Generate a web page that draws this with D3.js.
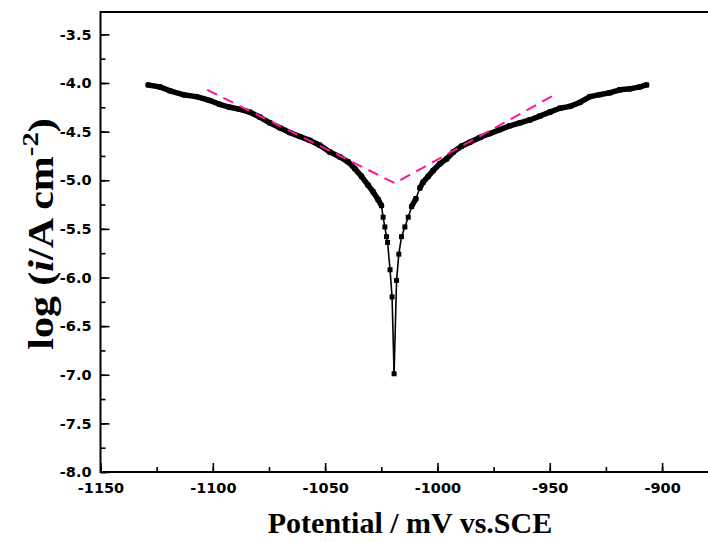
<!DOCTYPE html>
<html>
<head>
<meta charset="utf-8">
<script src="https://cdn.jsdelivr.net/npm/d3@7"></script>
<style>
    body { margin: 0; background: #fff; }
    svg { display: block; }
</style>
</head>
<body>
<div id="chart"></div>
<script>
// polarization curve (mV vs SCE, log i)
const potential = [
    -1128.8, -1123.6, -1119.1, -1113.2, -1107.3, -1101.3, -1096.9, -1092.4, -1088.0, -1083.5,
    -1079.1, -1074.6, -1070.2, -1065.7, -1061.3, -1056.8, -1052.4, -1047.9, -1043.5, -1039.8,
    -1036.8, -1033.8, -1030.9, -1028.6, -1026.4, -1024.9, -1024.2, -1023.4, -1022.7, -1022.2,
    -1021.1, -1020.2, -1019.3,
    -1018.2, -1017.2, -1016.0, -1014.5, -1013.0, -1011.5, -1009.6, -1007.8, -1006.4, -1004.1,
    -1001.9, -998.9, -995.9, -993.0, -989.3, -985.6, -981.1, -976.7, -972.2, -967.8,
    -963.3, -958.9, -954.4, -950.0, -945.5, -941.0, -936.6, -932.1, -927.7, -923.2,
    -918.8, -914.3, -909.9, -906.9
];
const logCurrent = [
    -4.02, -4.04, -4.08, -4.12, -4.14, -4.18, -4.22, -4.25, -4.27, -4.30,
    -4.35, -4.41, -4.46, -4.51, -4.55, -4.59, -4.64, -4.71, -4.76, -4.81,
    -4.88, -4.96, -5.05, -5.12, -5.20, -5.26, -5.38, -5.48, -5.58, -5.64,
    -5.92, -6.20, -6.99,
    -6.03, -5.76, -5.58, -5.48, -5.38, -5.27, -5.19, -5.08, -5.02, -4.96,
    -4.90, -4.83, -4.78, -4.71, -4.65, -4.61, -4.56, -4.52, -4.48, -4.44,
    -4.41, -4.38, -4.34, -4.30, -4.26, -4.24, -4.20, -4.14, -4.12, -4.10,
    -4.07, -4.06, -4.04, -4.02
];

// Tafel extrapolation lines (cathodic end, Ecorr, anodic end)
const tafelPotential = [ -1102.5, -1019.0, -947.7 ];
const tafelLogCurrent = [ -4.07, -5.03, -4.12 ];

const xTicks = [ -1150, -1100, -1050, -1000, -950, -900 ];
const yTicks = [ -3.5, -4.0, -4.5, -5.0, -5.5, -6.0, -6.5, -7.0, -7.5, -8.0 ];

const W = 708, H = 542;
const margin = { top: 12, left: 100.5 };
const plotW = 611, plotH = 460;

const svg = d3
.select('#chart')
.append('svg')
.attr('width', W)
.attr('height', H);

const x = d3.scaleLinear().domain([ -1150, -878 ]).range([ margin.left, margin.left + plotW ]);
const y = d3.scaleLinear().domain([ -8, -3.27 ]).range([ margin.top + plotH, margin.top ]);

const tickFont = '"DejaVu Sans", Arial, sans-serif';
const titleFont = '"Liberation Serif", "Times New Roman", serif';
// plain hyphen minus, like the original
const fmtX = d => d3.format('d')(d).replace('\u2212', '-');
const fmtY = d => d3.format('.1f')(d).replace('\u2212', '-');

// axes: ticks point inward
const xMinor = d3.range(-1150, -878, 25);
const yMinor = d3.range(-8, -3.27, 0.25);

const xAxis = svg
.append('g')
.attr('transform', 'translate(0,' + (margin.top + plotH) + ')')
.call(d3.axisBottom(x).tickValues(xMinor).tickSize(-5).tickFormat(''));
xAxis
.append('g')
.call(d3.axisBottom(x).tickValues(xTicks).tickSize(-9).tickPadding(11).tickFormat(fmtX));

const yAxis = svg
.append('g')
.attr('transform', 'translate(' + margin.left + ',0)')
.call(d3.axisLeft(y).tickValues(yMinor).tickSize(-5).tickFormat(''));
yAxis
.append('g')
.call(d3.axisLeft(y).tickValues(yTicks).tickSize(-9).tickPadding(9).tickFormat(fmtY));

svg.selectAll('.domain').remove();
svg.selectAll('.tick line').attr('stroke', '#000').attr('stroke-width', 1.6);
svg
.selectAll('.tick text')
.attr('fill', '#000')
.style('font-family', tickFont)
.style('font-size', '14.5px')
.style('font-weight', 'bold');

// frame (right edge falls outside the window)
svg
.append('path')
.attr('d', 'M' + (margin.left + plotW) + ',' + margin.top +
    'H' + margin.left + 'V' + (margin.top + plotH) + 'H' + (margin.left + plotW))
.attr('fill', 'none')
.attr('stroke', '#000')
.attr('stroke-width', 2);

// curve
const points = potential.map((e, i) => ({ e: e, v: logCurrent[i] }));
const segs = d3.pairs(points).map(([ a, b ]) => {
    const dx = Math.abs(x(b.e) - x(a.e));
    const dy = Math.abs(y(b.v) - y(a.v));
    return { a: a, b: b, dense: dy / dx < 2.2 };
});

svg
.append('g')
.selectAll('line')
.data(segs)
.enter()
.append('line')
.attr('x1', d => x(d.a.e))
.attr('y1', d => y(d.a.v))
.attr('x2', d => x(d.b.e))
.attr('y2', d => y(d.b.v))
.attr('stroke', '#000')
.attr('stroke-linecap', 'round')
.attr('stroke-width', d => (d.dense ? 5.5 : 1.6));

svg
.append('g')
.selectAll('rect')
.data(points)
.enter()
.append('rect')
.attr('x', d => x(d.e) - 2.5)
.attr('y', d => y(d.v) - 2.5)
.attr('width', 5)
.attr('height', 5)
.style('fill', '#000');

// Tafel lines
const tafel = tafelPotential.map((e, i) => [ x(e), y(tafelLogCurrent[i]) ]);
svg
.append('path')
.attr('d', d3.line()(tafel))
.attr('fill', 'none')
.attr('stroke', '#ff1493')
.attr('stroke-width', 2)
.attr('stroke-dasharray', '11,7');

// titles
svg
.append('text')
.attr('x', 410)
.attr('y', 533)
.attr('text-anchor', 'middle')
.style('font-family', titleFont)
.style('font-size', '30px')
.style('font-weight', 'bold')
.text('Potential / mV vs.SCE');

// the y title is drawn a little stretched along its length, as in the original
const yTitle = svg
.append('text')
.attr('transform', 'translate(53,234) rotate(-90) scale(1.2,1)')
.attr('text-anchor', 'middle')
.style('font-family', titleFont)
.style('font-size', '35px')
.style('font-weight', 'bold');
yTitle.append('tspan').text('log (');
yTitle.append('tspan').style('font-style', 'italic').text('i');
yTitle.append('tspan').text('/A cm');
yTitle.append('tspan').attr('dy', -15).style('font-size', '24px').text('-2');
yTitle.append('tspan').attr('dy', 15).text(')');
</script>
</body>
</html>
